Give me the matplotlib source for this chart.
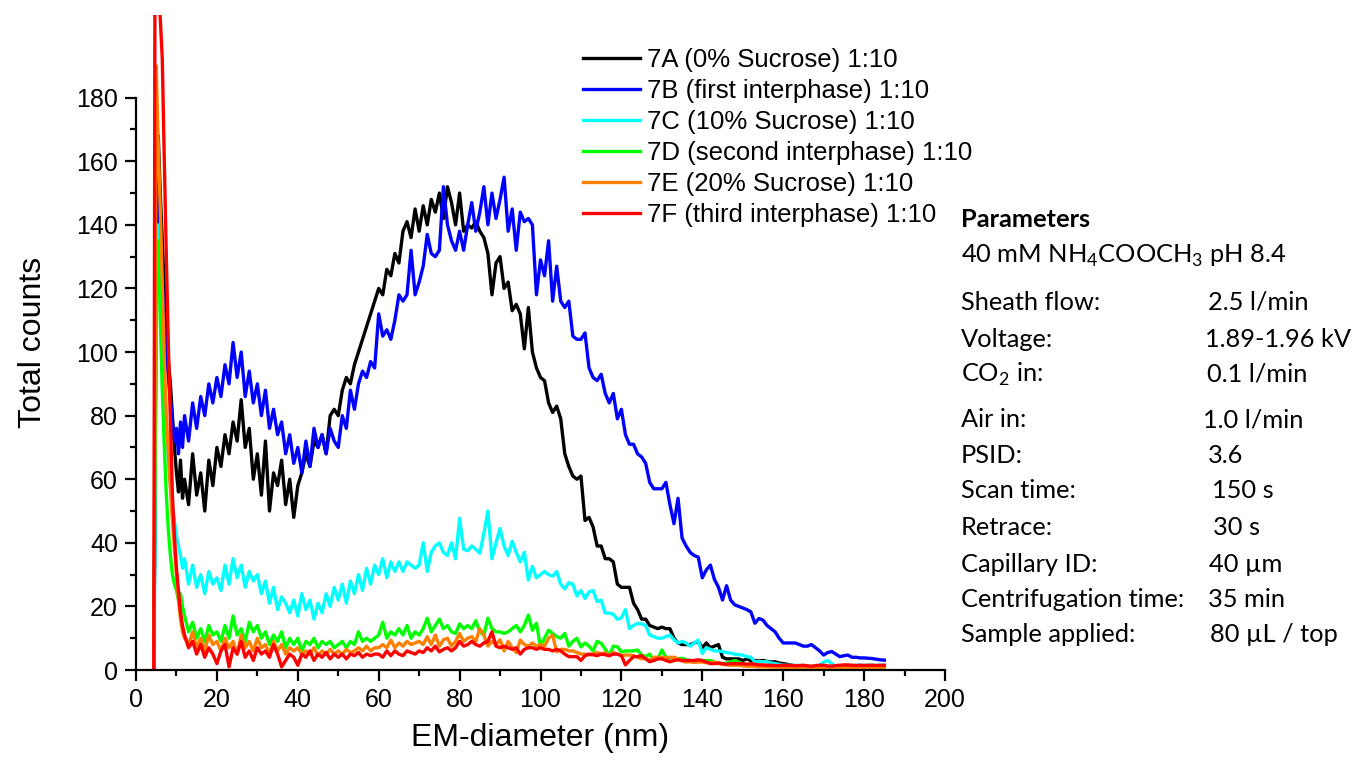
import matplotlib
matplotlib.use("Agg")
import matplotlib.pyplot as plt
from matplotlib.ticker import MultipleLocator

plt.rcParams['font.family'] = ['Liberation Sans', 'DejaVu Sans']

# EM-diameter channels (nm)
diam = [4.4, 4.7, 5.0, 5.5, 6.0, 6.5, 7.0, 7.5, 8.0, 8.5, 9.0, 9.5, 10.0, 10.5, 11.0, 11.5] + list(range(12, 186))

counts_7a = [0, 60, 140, 168, 150, 135, 120, 106, 97, 90, 80, 70, 62, 56, 66, 54,
             60, 52, 68, 55, 62, 50, 66, 58,
             70, 64, 74, 68, 78, 72, 85, 70, 76, 60,
             68, 55, 72, 50, 62, 58, 66, 52, 60, 48,
             58, 62, 68, 64, 72, 70, 74, 68, 80, 82,
             80, 88, 92, 90, 96, 100, 104, 108, 112, 116,
             120, 118, 126, 124, 131, 128, 138, 141, 136, 145,
             138, 146, 140, 148, 144, 150, 142, 152, 147, 140,
             150, 138, 140, 139, 141, 138, 136, 131, 118, 128,
             130, 120, 122, 113, 115, 112, 101, 114, 100, 95,
             92, 91, 84, 81, 83, 79, 68, 64, 61, 60,
             61, 47, 48, 45, 39, 39, 35, 35, 34, 27,
             26, 26, 26, 21, 19, 16, 16, 14, 13.5, 13,
             13.5, 13, 13, 10, 8.5, 8, 8, 8, 8.5, 9,
             7, 8.5, 7, 7.5, 8, 4, 3.5, 3.5, 3.5, 3.5,
             3, 3.5, 3, 3, 2.8, 3, 2.7, 2.5, 2.6, 2.2,
             2, 1.8, 1.5, 1.2, 1, 1, 0.8, 0.8, 0.6, 0.6,
             0.5, 0.5, 0.5, 0.5, 0.5, 0.5, 0.5, 0.5, 0.5, 0.5,
             0.5, 0.5, 0.5, 0.5, 0.5, 0.5]

counts_7b = [0, 50, 125, 150, 138, 122, 110, 100, 92, 85, 78, 72, 76, 68, 78, 70,
             80, 72, 84, 76, 86, 80, 90, 84,
             92, 86, 96, 90, 103, 92, 100, 86, 94, 84,
             90, 80, 88, 76, 82, 74, 78, 68, 74, 65,
             70, 62, 72, 64, 76, 70, 74, 68, 76, 72,
             70, 80, 76, 88, 82, 90, 94, 92, 97, 95,
             112, 105, 107, 104, 110, 118, 116, 118, 132, 118,
             122, 127, 137, 131, 130, 132, 152, 140, 135, 132,
             138, 132, 140, 147, 138, 144, 152, 140, 150, 142,
             148, 155, 138, 145, 132, 144, 141, 142, 140, 118,
             129, 124, 135, 116, 127, 116, 114, 116, 105, 104,
             104, 106, 95, 92, 91, 93, 87, 84, 87, 79,
             82, 74, 71, 71, 68, 67, 65, 59, 57, 57,
             57, 59, 52, 46, 54, 41.5, 39, 37, 36, 35.5,
             29, 31.5, 33, 28.5, 26, 22, 26.5, 22, 20.5, 20,
             19.5, 19, 18.3, 14.7, 16.2, 15.7, 14, 13, 12, 10,
             8.5, 8.5, 8.5, 8.5, 8, 7.5, 7.5, 8, 7, 6,
             4.7, 5.5, 5.8, 5, 4.2, 4.5, 4.7, 4, 4, 3.8,
             3.8, 3.7, 3.6, 3.4, 3.2, 3.1]

counts_7c = [0, 45, 120, 140, 122, 102, 88, 76, 66, 58, 52, 47, 42, 39, 36, 32,
             35, 27, 33, 26, 30, 24, 31, 27,
             29, 25, 33, 27, 35, 29, 33, 26, 31, 28,
             30, 24, 28, 21, 26, 19, 23, 21, 18, 22,
             17, 24, 19, 22, 16, 21, 18, 24, 20, 26,
             22, 27, 21, 28, 24, 30, 25, 32, 27, 33,
             30, 35, 29, 34, 31, 34, 31, 34, 33, 32,
             33, 40, 31, 37, 39, 40, 37, 36, 40, 35,
             47.7, 38, 37.5, 39, 38, 36.7, 43, 50, 35, 40,
             44.5, 39, 36, 40.5, 37, 34, 37, 28.3, 32.6, 29,
             30, 31, 30, 29.5, 31, 27, 25.5, 27.5, 27, 23.3,
             25, 22.5, 24.6, 25, 21.5, 22, 17.9, 17.9, 17.5, 16,
             16.4, 19, 13, 14, 14.7, 14.5, 14, 11, 10.5, 10,
             10, 10.5, 11, 9.5, 8.5, 9, 8.5, 7.5, 8.5, 9.4,
             5.2, 7, 6.5, 6, 6, 5.8, 5.5, 5.3, 5, 4.8,
             4.7, 4.2, 4, 2.6, 2.6, 2.6, 2.6, 2.2, 2, 1.8,
             1.5, 1.5, 1.5, 1.5, 1.4, 1.3, 1.2, 1.1, 1, 1.5,
             2.5, 3, 2, 1, 1, 1.2, 1.3, 1.4, 1.5, 1.5,
             1.5, 1.5, 1.5, 1.5, 1.5, 1.5]

counts_7d = [0, 60, 130, 135, 110, 88, 70, 55, 44, 36, 30, 27, 25, 22, 24, 20,
             17, 12, 15, 10, 13, 9, 14, 11,
             12, 9, 14, 10, 17, 11, 13, 9, 15, 12,
             14, 10, 12, 8, 11, 9, 12, 7, 10, 8,
             10, 6, 9, 8, 10, 7, 9, 8, 9, 7,
             8, 9, 7, 9, 8, 12, 9, 10, 9, 10,
             11, 15, 10, 12, 11, 13, 11, 14, 10, 12,
             11, 13, 16.3, 12, 14, 16, 13, 14, 12, 11.5,
             14.5, 13, 14, 13, 15.5, 12, 11, 16.3, 13, 12,
             12, 11.5, 12, 13, 14, 12, 14, 17.3, 12.5, 14.7,
             7.3, 10, 12.5, 11.5, 10.5, 10, 11.5, 7.5, 9, 10,
             7.3, 8.5, 7.5, 6, 9, 8.4, 6.6, 4.5, 7.5, 7.3,
             5.7, 6, 6, 6, 6.3, 4.7, 4.2, 5, 3, 3.5,
             6.3, 4, 2.6, 3, 3.5, 3.7, 3.2, 3, 2.6, 3,
             2.8, 3, 3, 2.5, 2.2, 2, 2.2, 2.5, 3, 2.5,
             2, 1.8, 1.5, 1.5, 1.4, 1.3, 1.2, 1.2, 1.1, 1,
             1, 1, 1, 1, 1, 1, 1, 1, 1, 1,
             1, 1, 1, 1, 1, 1, 1, 1, 1, 1,
             1, 1, 1, 1, 1, 1]

counts_7e = [0, 90, 190, 165, 145, 122, 98, 80, 68, 57, 47, 38, 30, 22, 16, 12,
             10, 8, 12, 7, 10, 6, 11, 8,
             9, 6, 10, 7, 9, 5, 11, 7, 9, 6,
             10, 7, 8, 5, 9, 6, 8, 5, 7, 6,
             7, 5, 6, 5, 7, 4.5, 6, 5, 6.5, 5,
             6, 5, 6.5, 5.5, 6, 7, 6, 7.5, 6, 7,
             7, 8, 7, 9.4, 7, 8.5, 7.5, 9, 8, 8.5,
             9, 8, 10.5, 8, 11, 7.5, 9.5, 10, 7.5, 9,
             11.5, 9, 10, 10.5, 9, 13, 11, 7.5, 9, 8,
             9.5, 6, 9, 7, 5.5, 9.4, 8, 7.5, 8.5, 7.5,
             8, 7.5, 10, 11, 5.7, 6.5, 6.5, 6, 6, 5.5,
             5, 5, 4.7, 5, 5.5, 5, 5.5, 4.5, 5.5, 5,
             4.5, 4.7, 4.7, 4.5, 4, 3.5, 3.7, 3, 4, 4,
             4, 3.8, 4, 4, 3.5, 2.8, 2.5, 2.6, 2.4, 2.5,
             2.5, 2.3, 2.2, 2.5, 2, 1.8, 1.6, 1.5, 1.5, 1.5,
             1.3, 1.2, 1.2, 1.1, 1, 1, 1, 0.9, 0.9, 0.9,
             0.8, 0.8, 0.8, 0.8, 0.8, 0.8, 0.8, 0.8, 0.8, 0.8,
             0.8, 0.8, 0.8, 0.8, 0.8, 0.8, 0.8, 0.8, 0.8, 0.8,
             0.8, 0.8, 0.8, 0.8, 0.8, 0.8]

counts_7f = [0, 230, 230, 212, 205, 192, 160, 130, 102, 78, 55, 42, 32, 25, 18, 14,
             11, 7, 9, 5, 8, 4, 7, 5,
             2, 6, 8, 1, 7, 5, 9, 4, 6, 3,
             7, 5, 6, 4, 8, 5, 1, 3, 5, 4,
             1.5, 5, 4, 6, 3, 5, 4, 5.5, 3.5, 5,
             4, 5, 3.5, 5, 4.5, 5.5, 4, 5, 4.5, 5,
             5, 4, 6, 4.5, 6, 5, 4.5, 6, 5.5, 5,
             6, 5.5, 7, 6, 7.5, 5.7, 6.5, 7, 6, 7,
             9, 7.5, 8, 9, 8, 7.5, 8.5, 9, 12, 7.5,
             7, 7.5, 7, 6.5, 7, 5, 6.5, 7, 7, 6.5,
             7, 6.5, 6.5, 6, 6.5, 6, 5, 4.2, 4.2, 4.2,
             3, 4.5, 5, 4.8, 4.5, 5, 4.8, 4.5, 5, 5,
             4.5, 1.6, 3, 4.2, 4.2, 4.5, 3.5, 2.6, 3, 3.5,
             3.5, 3, 2.6, 3, 3.2, 3, 3, 3, 3, 3.2,
             3, 2.5, 2, 2, 2.2, 2, 1.8, 2, 2, 2,
             2, 1.8, 2, 1.8, 1.6, 1.6, 1.5, 1.5, 1.4, 1.4,
             1.5, 1.4, 1.5, 1.3, 1.4, 1.5, 1.3, 1.2, 1.4, 1.5,
             1.5, 1.3, 1.2, 1.4, 1.5, 1.6, 1.6, 1.5, 1.4, 1.5,
             1.4, 1.5, 1.5, 1.4, 1.5, 1.5]

series = [counts_7a, counts_7b, counts_7c, counts_7d, counts_7e, counts_7f]
labels = ["7A (0% Sucrose) 1:10", "7B (first interphase) 1:10", "7C (10% Sucrose) 1:10",
          "7D (second interphase) 1:10", "7E (20% Sucrose) 1:10", "7F (third interphase) 1:10"]
colors = ["#000000", "#0000FF", "#00FFFF", "#00FF00", "#FF8000", "#FF0000"]

param_names = ["Parameters", r"40 mM NH$_\mathregular{4}$COOCH$_\mathregular{3}$ pH 8.4",
               "Sheath flow:", "Voltage:", r"CO$_\mathregular{2}$ in:", "Air in:", "PSID:",
               "Scan time:", "Retrace:", "Capillary ID:", "Centrifugation time:", "Sample applied:"]
param_values = ["", "", "2.5 l/min", "1.89-1.96 kV", "0.1 l/min", "1.0 l/min", "3.6",
                "150 s", "30 s", "40 µm", "35 min", "80 µL / top"]

W, H = 1357, 765
fig = plt.figure(figsize=(W / 100, H / 100), dpi=100)
ax = fig.add_axes([136 / W, 95 / H, 809 / W, 655 / H])

for y, lab, c in zip(series, labels, colors):
    ax.plot(diam, y, color=c, lw=2.4, label=lab)

ax.set_xlim(0, 200)
ax.set_ylim(0, 206)
ax.xaxis.set_major_locator(MultipleLocator(20))
ax.xaxis.set_minor_locator(MultipleLocator(10))
ax.set_yticks(range(0, 181, 20))
ax.set_yticks(range(10, 180, 20), minor=True)
for s in ['top', 'right']:
    ax.spines[s].set_visible(False)
for s in ['left', 'bottom']:
    ax.spines[s].set_linewidth(1.6)
ax.spines['left'].set_bounds(0, 180)
ax.tick_params(which='major', direction='out', length=8, width=1.6, labelsize=18, pad=5)
ax.tick_params(which='minor', direction='out', length=4.5, width=1.6)
ax.set_xlabel("EM-diameter (nm)", fontsize=23, labelpad=8)
ax.set_ylabel("Total counts", fontsize=23, labelpad=20)

ax.legend(loc='upper left', bbox_to_anchor=(583 / W, 1 - 48 / H), bbox_transform=fig.transFigure,
          frameon=False, fontsize=18.5, handlelength=2.2, handletextpad=0.3,
          labelspacing=0.27, borderpad=0, borderaxespad=0)

# parameter block on the right
plt.rcParams['mathtext.fontset'] = 'custom'
base_y = [227, 263, 310, 347, 382, 427, 463, 498, 535, 572, 607, 642]
val_x = [0, 0, 1208, 1205, 1207, 1203, 1208, 1212, 1213, 1209, 1208, 1210]
for i, (name, val) in enumerate(zip(param_names, param_values)):
    fig.text(961 / W, 1 - base_y[i] / H, name, fontsize=18.3, family='Lato',
             weight='bold' if i == 0 else 'normal', va='baseline', ha='left')
    if val:
        fig.text(val_x[i] / W, 1 - base_y[i] / H, val, fontsize=18.3, family='Lato',
                 va='baseline', ha='left')

fig.savefig("out.png", dpi=100)
